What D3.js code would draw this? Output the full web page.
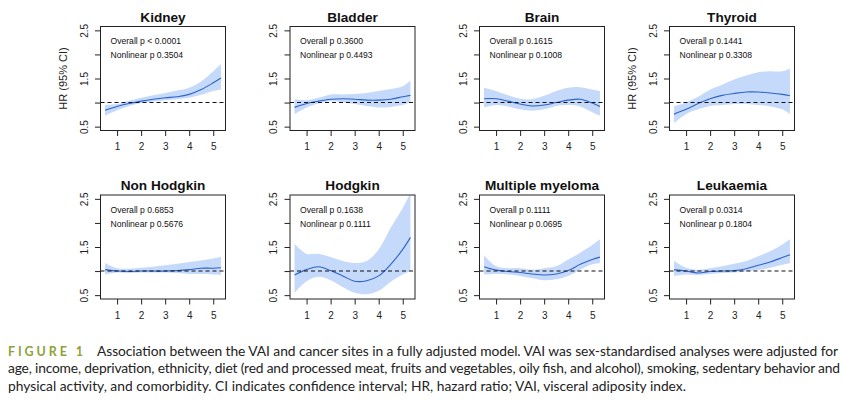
<!DOCTYPE html>
<html><head><meta charset="utf-8">
<script src="https://cdn.jsdelivr.net/npm/d3@7"></script>
<style>body{margin:0;background:#fff;overflow:hidden}</style>
</head><body><svg id="c" width="847" height="414"></svg>
<script>
// ---------- data ----------
const panels = ["Kidney","Bladder","Brain","Thyroid","Non Hodgkin","Hodgkin","Multiple myeloma","Leukaemia"];
const overallP = ["< 0.0001","0.3600","0.1615","0.1441","0.6853","0.1638","0.1111","0.0314"];
const nonlinearP = ["0.3504","0.4493","0.1008","0.3308","0.5676","0.1111","0.0695","0.1804"];
const vai = [0.5,1,1.5,2,2.5,3,3.5,4,4.5,5,5.32];

const hrKidney = [0.84,0.92,0.98,1.03,1.07,1.10,1.12,1.17,1.27,1.41,1.51];
const loKidney = [0.73,0.84,0.93,0.99,1.02,1.05,1.07,1.10,1.16,1.24,1.27];
const hiKidney = [0.95,0.97,1.04,1.10,1.15,1.20,1.25,1.31,1.44,1.65,1.80];

const hrBladder = [0.90,0.98,1.03,1.07,1.08,1.07,1.05,1.05,1.07,1.12,1.15];
const loBladder = [0.76,0.90,0.98,1.03,1.00,0.97,0.93,0.90,0.91,0.95,1.00];
const hiBladder = [1.07,1.05,1.10,1.17,1.17,1.18,1.20,1.24,1.28,1.34,1.46];

const hrBrain = [1.08,1.08,1.03,0.97,0.93,0.95,1.00,1.05,1.07,0.99,0.92];
const loBrain = [0.90,0.95,0.92,0.86,0.83,0.86,0.93,0.95,0.92,0.80,0.73];
const hiBrain = [1.31,1.24,1.15,1.08,1.07,1.14,1.24,1.31,1.32,1.27,1.24];

const hrThyroid = [0.76,0.86,0.98,1.08,1.15,1.19,1.22,1.22,1.20,1.17,1.14];
const loThyroid = [0.58,0.76,0.86,0.93,0.95,0.97,0.97,0.95,0.92,0.86,0.76];
const hiThyroid = [0.92,1.00,1.12,1.27,1.37,1.48,1.56,1.63,1.65,1.65,1.71];

const hrNonHodgkin = [1.03,1.00,0.99,1.00,1.00,1.00,1.01,1.03,1.06,1.06,1.07];
const loNonHodgkin = [0.93,0.97,0.96,0.97,0.97,0.97,0.96,0.94,0.94,0.93,0.92];
const hiNonHodgkin = [1.17,1.06,1.05,1.07,1.09,1.12,1.15,1.19,1.22,1.26,1.29];

const hrHodgkin = [0.92,1.03,1.09,1.01,0.90,0.79,0.80,0.90,1.14,1.45,1.70];
const loHodgkin = [0.55,0.79,0.88,0.81,0.67,0.55,0.52,0.59,0.78,0.93,1.00];
const hiHodgkin = [1.57,1.36,1.36,1.29,1.21,1.17,1.21,1.45,1.90,2.31,2.62];

const hrMyeloma = [1.09,1.02,0.99,0.97,0.94,0.92,0.94,1.01,1.14,1.24,1.29];
const loMyeloma = [0.93,0.94,0.93,0.90,0.85,0.81,0.83,0.90,1.03,1.14,1.17];
const hiMyeloma = [1.33,1.10,1.06,1.06,1.03,1.06,1.10,1.24,1.38,1.54,1.66];

const hrLeukaemia = [1.03,1.00,0.96,0.99,1.00,1.01,1.05,1.12,1.19,1.28,1.34];
const loLeukaemia = [0.90,0.93,0.92,0.94,0.96,0.97,0.99,1.02,1.07,1.13,1.17];
const hiLeukaemia = [1.21,1.07,1.03,1.06,1.10,1.15,1.21,1.31,1.41,1.55,1.66];

const xTicks = [1,2,3,4,5];
const yTicks = [0.5,1,1.5,2,2.5];
const yTickLabels = ["0.5","","1.5","","2.5"];
const yLabel = "HR (95% CI)";

const captionHead = "FIGURE 1";
const captionLines = [
  "Association between the VAI and cancer sites in a fully adjusted model. VAI was sex-standardised analyses were adjusted for",
  "age, income, deprivation, ethnicity, diet (red and processed meat, fruits and vegetables, oily fish, and alcohol), smoking, sedentary behavior and",
  "physical activity, and comorbidity. CI indicates confidence interval; HR, hazard ratio; VAI, visceral adiposity index."
];

const seriesHR = [hrKidney,hrBladder,hrBrain,hrThyroid,hrNonHodgkin,hrHodgkin,hrMyeloma,hrLeukaemia];
const seriesLo = [loKidney,loBladder,loBrain,loThyroid,loNonHodgkin,loHodgkin,loMyeloma,loLeukaemia];
const seriesHi = [hiKidney,hiBladder,hiBrain,hiThyroid,hiNonHodgkin,hiHodgkin,hiMyeloma,hiLeukaemia];

// ---------- layout ----------
const svg = d3.select("#c");
const colX = [100.5, 290, 479.5, 669.5];
const rowY = [26.5, 195];
const W = 125, H = 104;
const x = d3.scaleLinear().domain([0.31, 5.51]).range([0, W]);
const y = d3.scaleLinear().domain([0.42, 2.58]).range([H, 0]);
const FONT = "'Liberation Sans', Arial, sans-serif";

const area = d3.area().x((d,i)=>x(vai[i])).y0(d=>y(d[0])).y1(d=>y(d[1])).curve(d3.curveCatmullRom);
const line = d3.line().x((d,i)=>x(vai[i])).y(d=>y(d)).curve(d3.curveCatmullRom);

panels.forEach((name, k) => {
  const r = Math.floor(k/4), c = k%4;
  const g = svg.append("g").attr("transform", `translate(${colX[c]},${rowY[r]})`);
  const cid = "clip"+k;
  g.append("clipPath").attr("id", cid).append("rect").attr("width", W).attr("height", H);
  const pg = g.append("g").attr("clip-path", `url(#${cid})`);
  const band = seriesLo[k].map((v,i)=>[v, seriesHi[k][i]]);
  pg.append("path").attr("d", area(band)).attr("fill", "#c5d9fb");
  pg.append("path").attr("d", line(seriesHR[k])).attr("fill","none").attr("stroke","#2d63c8").attr("stroke-width",1.1);
  pg.append("line").attr("x1",0).attr("x2",W).attr("y1",y(1)).attr("y2",y(1))
    .attr("stroke","#111").attr("stroke-width",1.1).attr("stroke-dasharray","4,3");
  g.append("rect").attr("width",W).attr("height",H).attr("fill","none").attr("stroke","#222").attr("stroke-width",1);

  // axes
  const ya = g.append("g").call(d3.axisLeft(y).tickValues(yTicks).tickSize(5.5).tickPadding(0)
      .tickFormat((d,i)=>yTickLabels[i]));
  ya.select(".domain").remove();
  ya.selectAll(".tick line").attr("stroke","#222");
  ya.selectAll(".tick text").attr("transform","rotate(-90)").attr("text-anchor","middle")
    .attr("x",0).attr("y",-13).attr("dy",0).attr("font-family",FONT).attr("font-size",10).attr("fill","#222");
  const xa = g.append("g").attr("transform",`translate(0,${H})`)
      .call(d3.axisBottom(x).tickValues(xTicks).tickSize(5.5).tickPadding(0).tickFormat(d3.format("d")));
  xa.select(".domain").remove();
  xa.selectAll(".tick line").attr("stroke","#222");
  xa.selectAll(".tick text").attr("y",19.5).attr("dy",0).attr("font-family",FONT).attr("font-size",10).attr("fill","#222");

  g.append("text").attr("x",W/2).attr("y",-5).attr("text-anchor","middle")
    .attr("font-family",FONT).attr("font-weight","bold").attr("font-size",13.6).attr("fill","#111").text(name);
  g.append("text").attr("x",10).attr("y",17.5).attr("font-family",FONT).attr("font-size",8.6).attr("fill","#111")
    .text("Overall p " + overallP[k]);
  g.append("text").attr("x",10).attr("y",31.5).attr("font-family",FONT).attr("font-size",8.6).attr("fill","#111")
    .text("Nonlinear p " + nonlinearP[k]);

  if (r === 0 && (c === 0 || c === 3)) {
    g.append("text").attr("transform",`translate(-33.5,${H/2}) rotate(-90)`).attr("text-anchor","middle")
      .attr("font-family",FONT).attr("font-size",11).attr("fill","#222").text(yLabel);
  }
});

// ---------- caption ----------
const CF = "Lato, 'Open Sans', sans-serif";
const cap = svg.append("g");
cap.append("text").attr("x",8).attr("y",355.5).attr("font-family",CF).attr("font-weight","bold")
  .attr("font-size",12.5).attr("letter-spacing","2.9px").attr("fill","#8fa23a").text(captionHead);
const starts = [97, 8, 8], ends = [838, 840, null], bases = [355.5, 373, 390.5];
// size font so that the free (last) line spans its width in the reference
const probe = cap.append("text").attr("font-family",CF).attr("font-size",12).text(captionLines[2]);
const w12 = probe.node().getComputedTextLength();
probe.remove();
const fs = 12 * (687 - 8) / w12;
captionLines.forEach((t,i)=>{
  const tx = cap.append("text").attr("x",starts[i]).attr("y",bases[i]).attr("font-family",CF)
    .attr("font-size",fs).attr("fill","#222").text(t);
  if (ends[i]) tx.attr("textLength", ends[i]-starts[i]).attr("lengthAdjust","spacing");
});
</script></body></html>
